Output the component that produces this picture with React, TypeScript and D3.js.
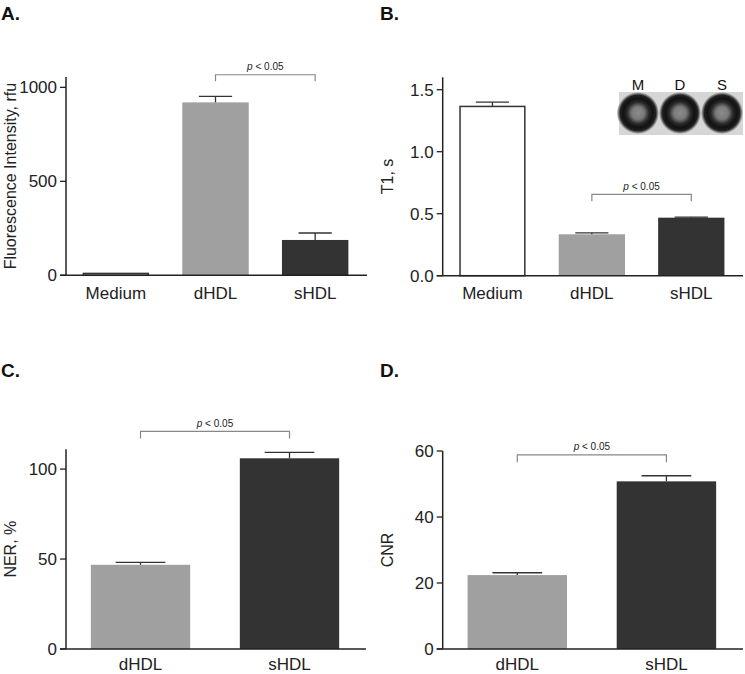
import React from "react";
import * as d3 from "d3";

// ---------- data ----------
const catsA = ["Medium", "dHDL", "sHDL"];
const valsA = [10, 920, 188];
const errA = [0, 32, 37];
const ticksA = [0, 500, 1000];

const catsB = ["Medium", "dHDL", "sHDL"];
const valsB = [1.365, 0.334, 0.468];
const errB = [0.035, 0.012, 0.005];
const ticksB = [0, 0.5, 1.0, 1.5];

const catsC = ["dHDL", "sHDL"];
const valsC = [46.8, 106];
const errC = [1.4, 3.3];
const ticksC = [0, 50, 100];

const catsD = ["dHDL", "sHDL"];
const valsD = [22.4, 50.8];
const errD = [0.7, 1.7];
const ticksD = [0, 20, 40, 60];

const insetLabels = ["M", "D", "S"];

const FILL: Record<string, string> = { Medium: "#ffffff", dHDL: "#a0a0a0", sHDL: "#333333" };
const FONT = "Liberation Sans, Arial, Helvetica, sans-serif";

type PanelProps = {
  title: string;
  titleX: number;
  titleY: number;
  yLabel: string;
  yLabelX: number;
  cats: string[];
  vals: number[];
  errs: number[];
  ticks: number[];
  fmt: (v: number) => string;
  yMax: number;
  axisX: number;
  axisRight: number;
  y0: number;
  yTop: number;
  bracket: [string, string, number, number];
  labelY: number;
};

function Panel(p: PanelProps) {
  const x = d3.scaleBand<string>().domain(p.cats).range([p.axisX, p.axisRight]).paddingInner(1 / 3).paddingOuter(1 / 6);
  const y = d3.scaleLinear().domain([0, p.yMax]).range([p.y0, p.yTop]);
  const bw = x.bandwidth();
  const [b1, b2, bTop, bLow] = p.bracket;
  const bx1 = (x(b1) as number) + bw / 2;
  const bx2 = (x(b2) as number) + bw / 2;
  const yLabelCenter = (p.y0 + p.yTop) / 2;
  return (
    <g fontFamily={FONT}>
      <text x={p.titleX} y={p.titleY} fontSize={19} fontWeight="bold" fill="#111">{p.title}</text>
      <text
        transform={`translate(${p.yLabelX},${yLabelCenter}) rotate(-90)`}
        textAnchor="middle"
        fontSize={16}
        fill="#222"
      >{p.yLabel}</text>
      {/* bars */}
      {p.cats.map((c, i) => {
        const bx = x(c) as number;
        const top = y(p.vals[i]);
        const isWhite = c === "Medium";
        return (
          <g key={c}>
            <rect
              x={isWhite ? bx + 0.75 : bx}
              y={top}
              width={isWhite ? bw - 1.5 : bw}
              height={p.y0 - top}
              fill={FILL[c]}
              stroke={isWhite ? "#333" : "none"}
              strokeWidth={isWhite ? 1.5 : 0}
            />
            {p.errs[i] > 0 && (
              <g stroke="#333" strokeWidth={1.3}>
                <line x1={bx + bw / 2} x2={bx + bw / 2} y1={top} y2={y(p.vals[i] + p.errs[i])} />
                <line x1={bx + bw / 4} x2={bx + (3 * bw) / 4} y1={y(p.vals[i] + p.errs[i])} y2={y(p.vals[i] + p.errs[i])} />
              </g>
            )}
            <text x={bx + bw / 2} y={p.labelY} textAnchor="middle" fontSize={17} fill="#222">{c}</text>
          </g>
        );
      })}
      {/* axes */}
      <line x1={p.axisX} x2={p.axisX} y1={p.yTop} y2={p.y0} stroke="#222" strokeWidth={1.5} />
      <line x1={p.axisX - 6} x2={p.axisRight + 2} y1={p.y0} y2={p.y0} stroke="#222" strokeWidth={1.5} />
      {p.ticks.map((t) => (
        <g key={t}>
          <line x1={p.axisX - 6} x2={p.axisX} y1={y(t)} y2={y(t)} stroke="#222" strokeWidth={1.3} />
          <text x={p.axisX - 9} y={y(t)} dy="0.36em" textAnchor="end" fontSize={17} fill="#222">{p.fmt(t)}</text>
        </g>
      ))}
      {/* significance bracket */}
      <path
        d={`M${bx1},${y(bLow)}V${y(bTop)}H${bx2}V${y(bLow)}`}
        fill="none"
        stroke="#888"
        strokeWidth={1.2}
      />
      <text x={(bx1 + bx2) / 2} y={y(bTop) - 4.5} textAnchor="middle" fontSize={10} fill="#222">
        <tspan fontStyle="italic">p</tspan> &lt; 0.05
      </text>
    </g>
  );
}

function Inset() {
  const x = d3.scaleBand<string>().domain(insetLabels).range([617, 743]).padding(0);
  const cy = 113;
  return (
    <g fontFamily={FONT}>
      <defs>
        <radialGradient id="ring">
          <stop offset="0%" stopColor="#8c8c8c" />
          <stop offset="30%" stopColor="#7a7a7a" />
          <stop offset="52%" stopColor="#2a2a2a" />
          <stop offset="70%" stopColor="#111" />
          <stop offset="85%" stopColor="#222" />
          <stop offset="100%" stopColor="#d4d4d4" />
        </radialGradient>
      </defs>
      <rect x={619} y={92} width={124} height={43} fill="#d6d6d6" />
      {insetLabels.map((l) => {
        const cx = (x(l) as number) + x.bandwidth() / 2;
        return (
          <g key={l}>
            <circle cx={cx} cy={cy} r={21} fill="url(#ring)" />
            <text x={cx} y={89.5} textAnchor="middle" fontSize={15} fill="#111">{l}</text>
          </g>
        );
      })}
    </g>
  );
}

export default function App() {
  return (
    <svg
      width={745}
      height={674}
      style={{ position: "absolute", left: 0, top: 0, background: "#fff" }}
    >
      <rect width={745} height={674} fill="#fff" />
      <Panel
        title="A." titleX={1} titleY={20}
        yLabel="Fluorescence Intensity, rfu" yLabelX={16}
        cats={catsA} vals={valsA} errs={errA} ticks={ticksA} fmt={(v) => String(v)}
        yMax={1055} axisX={66} axisRight={365} y0={275.3} yTop={77}
        bracket={["dHDL", "sHDL", 1067, 1033]} labelY={299}
      />
      <Panel
        title="B." titleX={380} titleY={20}
        yLabel="T1, s" yLabelX={393}
        cats={catsB} vals={valsB} errs={errB} ticks={ticksB} fmt={d3.format(".1f")}
        yMax={1.6} axisX={442.7} axisRight={741} y0={275.7} yTop={77.3}
        bracket={["dHDL", "sHDL", 0.656, 0.6]} labelY={299}
      />
      <Panel
        title="C." titleX={1} titleY={377}
        yLabel="NER, %" yLabelX={16}
        cats={catsC} vals={valsC} errs={errC} ticks={ticksC} fmt={(v) => String(v)}
        yMax={111} axisX={66} axisRight={364} y0={649} yTop={449.3}
        bracket={["dHDL", "sHDL", 121, 117]} labelY={670}
      />
      <Panel
        title="D." titleX={380} titleY={377}
        yLabel="CNR" yLabelX={393}
        cats={catsD} vals={valsD} errs={errD} ticks={ticksD} fmt={(v) => String(v)}
        yMax={60} axisX={442.7} axisRight={741} y0={649} yTop={451}
        bracket={["dHDL", "sHDL", 58.8, 56.6]} labelY={670}
      />
      <Inset />
    </svg>
  );
}
